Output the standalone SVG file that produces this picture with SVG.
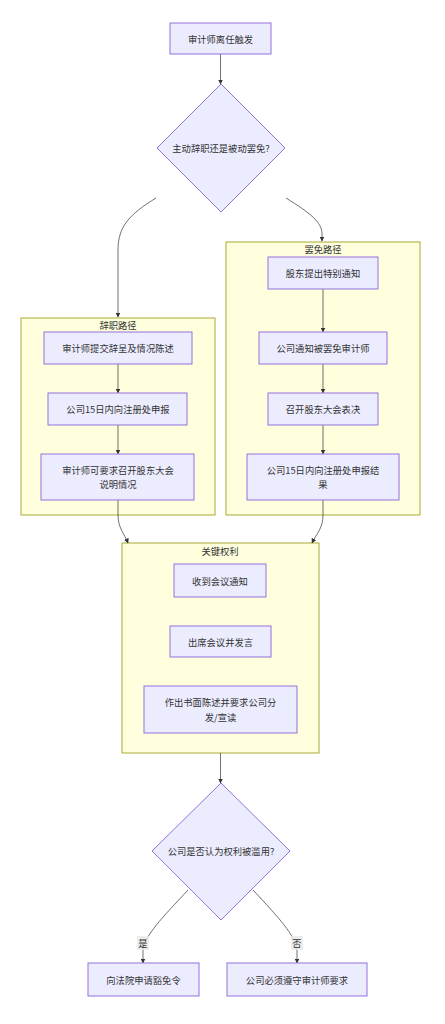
<svg xmlns="http://www.w3.org/2000/svg" width="445" height="1024" viewBox="0 0 445 1024">
<style>
text{font-family:"Noto Sans CJK SC","Liberation Sans",sans-serif;font-size:9.3px;fill:#333;text-anchor:middle;dominant-baseline:central}
.node rect,.node polygon{fill:#ECECFF;stroke:#9370DB;stroke-width:1}
.cluster rect{fill:#ffffde;stroke:#aaaa33;stroke-width:1}
.edge{fill:none;stroke:#333;stroke-width:0.7;marker-end:url(#arr)}
.lbl{fill:#e8e8e8;opacity:0.8}
</style>
<defs>
<marker id="arr" viewBox="0 0 10 10" refX="9" refY="5" markerWidth="5" markerHeight="5" orient="auto-start-reverse" markerUnits="userSpaceOnUse">
<path d="M0,0 L10,5 L0,10 z" fill="#333"/>
</marker>
</defs>
<rect width="445" height="1024" fill="#fff"/>
<g id="cluster-resign" class="cluster"><rect x="21" y="318" width="194" height="197"/><text x="118" y="325">辞职路径</text></g>
<g id="cluster-remove" class="cluster"><rect x="226" y="242" width="194" height="273"/><text x="323" y="249">罢免路径</text></g>
<g id="cluster-rights" class="cluster"><rect x="122" y="543" width="197" height="210"/><text x="220" y="551">关键权利</text></g>
<g id="edges">
<path class="edge" d="M220.5,54 L220.5,84"/>
<path class="edge" d="M156,198 C130,214 118,226 118,250 L118,317"/>
<path class="edge" d="M286,198 C310,213 322,222 322,234 L322,241"/>
<path class="edge" d="M118,364 L118,393"/>
<path class="edge" d="M118,425 L118,454"/>
<path class="edge" d="M323,289 L323,332"/>
<path class="edge" d="M323,364 L323,393"/>
<path class="edge" d="M323,425 L323,454"/>
<path class="edge" d="M118,500 L118,515 C118,528 124,533 128,543"/>
<path class="edge" d="M323,500 L323,515 C323,528 317,533 312,543"/>
<path class="edge" d="M220.5,753 L220.5,783"/>
<path class="edge" d="M188,890 C162,918 145,935 143,950 L143,963"/>
<path class="edge" d="M253,890 C279,918 295,935 297,950 L297,963"/>
<rect class="lbl" x="137" y="936" width="12" height="14"/><text x="143" y="943">是</text>
<rect class="lbl" x="291" y="936" width="12" height="14"/><text x="297" y="943">否</text>
</g>
<g id="n-start" class="node"><rect x="170" y="23" width="101" height="31"/><text x="220.5" y="38.5">审计师离任触发</text></g>
<g id="n-decide1" class="node"><polygon points="221,84 285,148 221,212 157,148"/><text x="221" y="148">主动辞职还是被动罢免?</text></g>
<g id="n-r1" class="node"><rect x="44" y="332" width="148" height="32"/><text x="118" y="348">审计师提交辞呈及情况陈述</text></g>
<g id="n-r2" class="node"><rect x="48" y="393" width="139" height="32"/><text x="118" y="409">公司15日内向注册处申报</text></g>
<g id="n-r3" class="node"><rect x="41" y="454" width="153" height="46"/><text x="118" y="470">审计师可要求召开股东大会</text><text x="118" y="484">说明情况</text></g>
<g id="n-m1" class="node"><rect x="268" y="257" width="110" height="32"/><text x="323" y="273">股东提出特别通知</text></g>
<g id="n-m2" class="node"><rect x="259" y="332" width="128" height="32"/><text x="323" y="348">公司通知被罢免审计师</text></g>
<g id="n-m3" class="node"><rect x="268" y="393" width="110" height="32"/><text x="323" y="409">召开股东大会表决</text></g>
<g id="n-m4" class="node"><rect x="247" y="454" width="152" height="46"/><text x="323" y="470">公司15日内向注册处申报结</text><text x="323" y="484">果</text></g>
<g id="n-k1" class="node"><rect x="174" y="564" width="92" height="33"/><text x="220" y="580.5">收到会议通知</text></g>
<g id="n-k2" class="node"><rect x="170" y="626" width="101" height="31"/><text x="220.5" y="641.5">出席会议并发言</text></g>
<g id="n-k3" class="node"><rect x="144" y="686" width="153" height="47"/><text x="220.5" y="702">作出书面陈述并要求公司分</text><text x="220.5" y="717">发/宣读</text></g>
<g id="n-decide2" class="node"><polygon points="221,783 290,851 221,920 152,851"/><text x="221" y="851">公司是否认为权利被滥用?</text></g>
<g id="n-yes" class="node"><rect x="88" y="963" width="111" height="33"/><text x="143.5" y="979.5">向法院申请豁免令</text></g>
<g id="n-no" class="node"><rect x="227" y="963" width="140" height="33"/><text x="297" y="979.5">公司必须遵守审计师要求</text></g>
</svg>
